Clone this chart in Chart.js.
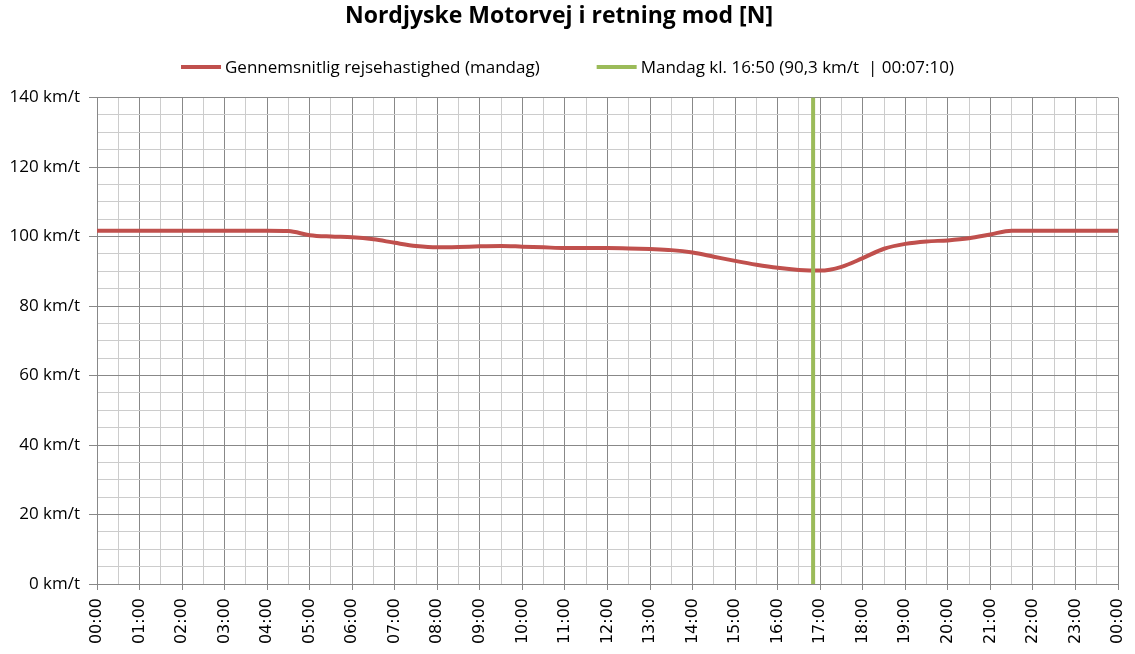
<!DOCTYPE html>
<html><head><meta charset="utf-8">
<script src="https://cdn.jsdelivr.net/npm/chart.js@4.4.1/dist/chart.umd.min.js"></script>
<style>html,body{margin:0;padding:0;background:#fff}#wrap{width:1135px;height:654px;position:relative}</style>
</head><body><div id="wrap"><canvas id="c"></canvas></div>
<script>
const chartTitle = 'Nordjyske Motorvej i retning mod [N]';
const seriesLabel = 'Gennemsnitlig rejsehastighed (mandag)';
const markerLabel = 'Mandag kl. 16:50 (90,3 km/t  | 00:07:10)';
const hours = [0,0.5,1,1.5,2,2.5,3,3.5,4,4.5,5,5.5,6,6.5,7,7.5,8,8.5,9,9.5,10,10.5,11,11.5,12,12.5,13,13.5,14,14.5,15,15.5,16,16.5,17,17.5,18,18.5,19,19.5,20,20.5,21,21.5,22,22.5,23,23.5,24];
const speeds = [101.7,101.7,101.7,101.7,101.7,101.7,101.7,101.7,101.7,101.6,100.4,100.0,99.8,99.2,98.2,97.3,96.9,97.0,97.2,97.3,97.1,96.9,96.7,96.7,96.7,96.6,96.4,96.1,95.4,94.2,93.0,91.9,91.0,90.4,90.2,91.3,93.8,96.5,97.9,98.6,98.9,99.5,100.6,101.7,101.7,101.7,101.7,101.7,101.7];
const markerHours = [16.8333, 16.8333];
const markerSpeeds = [0, 140];
const yMin = 0, yMax = 140, yMinorStep = 5, yMajorStep = 20, yUnit = ' km/t';
const xMin = 0, xMax = 24, xMinorStep = 0.5;

const majorGrid = '#888888', minorGrid = '#cccccc';
const isMajorX = v => Math.abs(v - Math.round(v)) < 1e-6;
const isMajorY = v => Math.abs(v % yMajorStep) < 1e-6;
const hh = v => { const h = Math.round(v) % 24; return (h < 10 ? '0' : '') + h + ':00'; };

const legendPlugin = {
  id: 'customLegend',
  afterDraw(chart) {
    const ctx = chart.ctx;
    const items = chart.data.datasets.map(d => ({text: d.label, color: d.borderColor}));
    ctx.save();
    ctx.font = '17px "Open Sans"';
    const lineW = 40, gap = 4, spacing = 57;
    const widths = items.map(it => lineW + gap + ctx.measureText(it.text).width);
    const total = widths.reduce((a, b) => a + b, 0) + spacing * (items.length - 1);
    let x = (chart.width - total) / 2;
    const y = 67;
    ctx.textBaseline = 'middle';
    items.forEach((it, i) => {
      ctx.fillStyle = it.color;
      ctx.fillRect(x, y - 2, lineW, 4);
      ctx.fillStyle = '#000';
      ctx.fillText(it.text, x + lineW + gap, y + 1);
      x += widths[i] + spacing;
    });
    ctx.restore();
  }
};

new Chart(document.getElementById('c'), {
  type: 'line',
  data: {
    datasets: [
      {
        label: seriesLabel,
        data: hours.map((h, i) => ({x: h, y: speeds[i]})),
        borderColor: '#c0504d', backgroundColor: '#c0504d',
        borderWidth: 4, pointRadius: 0, cubicInterpolationMode: 'monotone', order: 1
      },
      {
        label: markerLabel,
        data: markerHours.map((h, i) => ({x: h, y: markerSpeeds[i]})),
        borderColor: '#9bbb59', backgroundColor: '#9bbb59',
        borderWidth: 4, pointRadius: 0, order: 0
      }
    ]
  },
  options: {
    responsive: true, maintainAspectRatio: false, animation: false,
    layout: {padding: {left: 0, right: 17, top: 0, bottom: 0}},
    plugins: {
      legend: {display: false},
      tooltip: {enabled: false},
      title: {
        display: true, text: chartTitle, color: '#000',
        font: {family: 'Open Sans', size: 23, weight: 'bold'},
        padding: {top: 3, bottom: 67}
      }
    },
    scales: {
      x: {
        type: 'linear', min: xMin, max: xMax,
        afterFit: s => { s.height = 70; s.paddingLeft = 0; s.paddingRight = 0; },
        afterBuildTicks: s => { const t = []; for (let v = xMin; v <= xMax + 1e-9; v += xMinorStep) t.push({value: v}); s.ticks = t; },
        ticks: {
          autoSkip: false, minRotation: 90, maxRotation: 90, color: '#000', padding: 8,
          font: {family: 'DejaVu Sans', size: 16},
          callback: v => isMajorX(v) ? hh(v) : ''
        },
        grid: {
          color: c => isMajorX(c.tick.value) ? majorGrid : minorGrid,
          tickColor: c => isMajorX(c.tick.value) ? majorGrid : 'rgba(0,0,0,0)',
          tickLength: 6, lineWidth: 1
        },
        border: {color: majorGrid}
      },
      y: {
        min: yMin, max: yMax,
        afterFit: s => { s.width = 97; },
        ticks: {
          stepSize: yMinorStep, autoSkip: false, color: '#000', padding: 9,
          font: {family: 'Open Sans', size: 17},
          callback: v => isMajorY(v) ? v + yUnit : ''
        },
        grid: {
          color: c => isMajorY(c.tick.value) ? majorGrid : minorGrid,
          tickColor: c => isMajorY(c.tick.value) ? majorGrid : 'rgba(0,0,0,0)',
          tickLength: 8, lineWidth: 1
        },
        border: {color: majorGrid}
      }
    }
  },
  plugins: [legendPlugin]
});
</script></body></html>
